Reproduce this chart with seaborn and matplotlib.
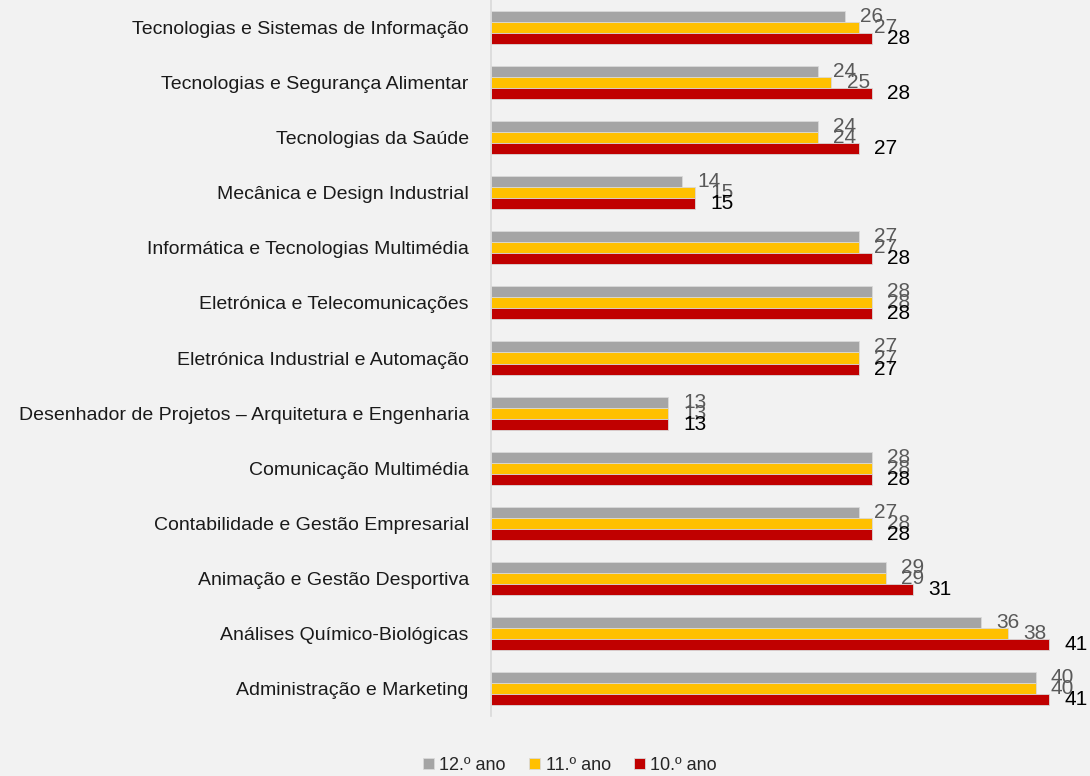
import pandas as pd
import seaborn as sns
import matplotlib.pyplot as plt

# Cursos e número de alunos por ano
cursos = [
    "Tecnologias e Sistemas de Informação",
    "Tecnologias e Segurança Alimentar",
    "Tecnologias da Saúde",
    "Mecânica e Design Industrial",
    "Informática e Tecnologias Multimédia",
    "Eletrónica e Telecomunicações",
    "Eletrónica Industrial e Automação",
    "Desenhador de Projetos – Arquitetura e Engenharia",
    "Comunicação Multimédia",
    "Contabilidade e Gestão Empresarial",
    "Animação e Gestão Desportiva",
    "Análises Químico-Biológicas",
    "Administração e Marketing",
]
ano_12 = [26, 24, 24, 14, 27, 28, 27, 13, 28, 27, 29, 36, 40]
ano_11 = [27, 25, 24, 15, 27, 28, 27, 13, 28, 28, 29, 38, 40]
ano_10 = [28, 28, 27, 15, 28, 28, 27, 13, 28, 28, 31, 41, 41]
anos = ["12.º ano", "11.º ano", "10.º ano"]
cores = ["#A5A5A5", "#FFC000", "#C00000"]

df = pd.DataFrame({
    "Curso": cursos * 3,
    "Ano": [anos[0]] * 13 + [anos[1]] * 13 + [anos[2]] * 13,
    "Alunos": ano_12 + ano_11 + ano_10,
})

sns.set_style("white")
plt.rcParams["font.family"] = ["Liberation Sans Narrow", "Liberation Sans", "DejaVu Sans"]

fig = plt.figure(figsize=(10.9, 7.76), dpi=100, facecolor="#F2F2F2")
ax = fig.add_axes([0.4505, 0.0773, 0.5495, 0.9227])
ax.set_facecolor("#F2F2F2")

sns.barplot(data=df, y="Curso", x="Alunos", hue="Ano", hue_order=anos,
            palette=cores, saturation=1, orient="h", width=0.6,
            edgecolor="#D9D9D9", linewidth=0.6, ax=ax, legend=True)

# rótulos de dados
label_cores = ["#595959", "#595959", "#000000"]
for cont, c in zip(ax.containers, label_cores):
    ax.bar_label(cont, padding=11, color=c, fontsize=15)

ax.set_xlim(0, 44)
ax.set_ylim(12.5, -0.5)
ax.set_xlabel("")
ax.set_ylabel("")
ax.set_xticks([])
ax.tick_params(axis="y", length=0, pad=16, labelsize=14, labelcolor="#1A1A1A")
for s in ["top", "right", "bottom"]:
    ax.spines[s].set_visible(False)
ax.spines["left"].set_color("#D9D9D9")
ax.spines["left"].set_linewidth(1.2)

handles, labels = ax.get_legend_handles_labels()
ax.legend_.remove()
fig.legend(handles, labels, loc="lower center", bbox_to_anchor=(0.523, -0.018),
           ncol=3, frameon=False, fontsize=13, handlelength=0.6,
           handleheight=0.6, handletextpad=0.3, columnspacing=1.3)

fig.savefig("out.png", dpi=100, facecolor=fig.get_facecolor())
